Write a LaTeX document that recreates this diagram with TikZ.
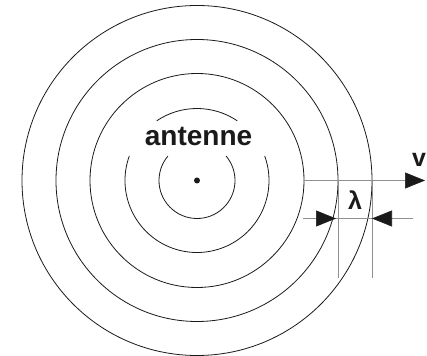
\documentclass[tikz,border=0pt]{standalone}
\usepackage{fontspec}
\setmainfont{Liberation Sans}
\usepackage{tikz}
\usetikzlibrary{arrows.meta}
\definecolor{waveBlack}{HTML}{1A1A1A}
\definecolor{waveGray}{HTML}{8F8F8F}
\tikzset{
  front/.style={draw=waveBlack, line width=0.8pt},
  guide/.style={draw=waveGray, line width=0.55pt},
  dimarrow/.style={-{Triangle[length=20pt,width=16pt,color=waveBlack]}, draw=waveGray, line width=0.55pt},
  lbl/.style={font=\fontsize{25}{30}\selectfont\bfseries, text=waveBlack, inner sep=0pt, anchor=base}
}

\begin{document}
\begin{tikzpicture}[x=1pt, y=1pt]
\useasboundingbox (0,0) rectangle (427,355);
\coordinate (ant) at (197,174.5);
% wave fronts
\draw[front] ([shift={(140:38)}]ant) arc[start angle=140, end angle=400, radius=38];
\draw[front] ([shift={(160:72)}]ant) arc[start angle=160, end angle=380, radius=72];
\draw[front] ([shift={(56:72)}]ant) arc[start angle=56, end angle=124, radius=72];
\foreach \r in {107,141,175}
  \draw[front] (ant) circle[radius=\r];
\fill[waveBlack] (ant) circle[radius=3];
\node[lbl, font=\fontsize{28}{32}\selectfont\bfseries] (antlbl) at (198.5,209) {antenne};
% speed and wavelength
\coordinate (vstart) at (304,174.5);
\coordinate (vend) at (425,174.5);
\draw[dimarrow] (vstart) -- (vend);
\node[lbl] (vlbl) at (419,188) {v};
\coordinate (ltop) at (338,174.5);
\coordinate (lbot) at (338,77);
\coordinate (rtop) at (372,174.5);
\coordinate (rbot) at (372,77);
\draw[guide] (ltop) -- (lbot);
\draw[guide] (rtop) -- (rbot);
\coordinate (dimL) at (303,136.5);
\coordinate (dimR) at (413,136.5);
\coordinate (tipL) at (336,136.5);
\coordinate (tipR) at (372,136.5);
\draw[guide] (dimL) -- (dimR);
\draw[dimarrow] (dimL) -- (tipL);
\draw[dimarrow] (dimR) -- (tipR);
\node[lbl] (lamlbl) at (355,145) {λ};
\end{tikzpicture}
\end{document}
